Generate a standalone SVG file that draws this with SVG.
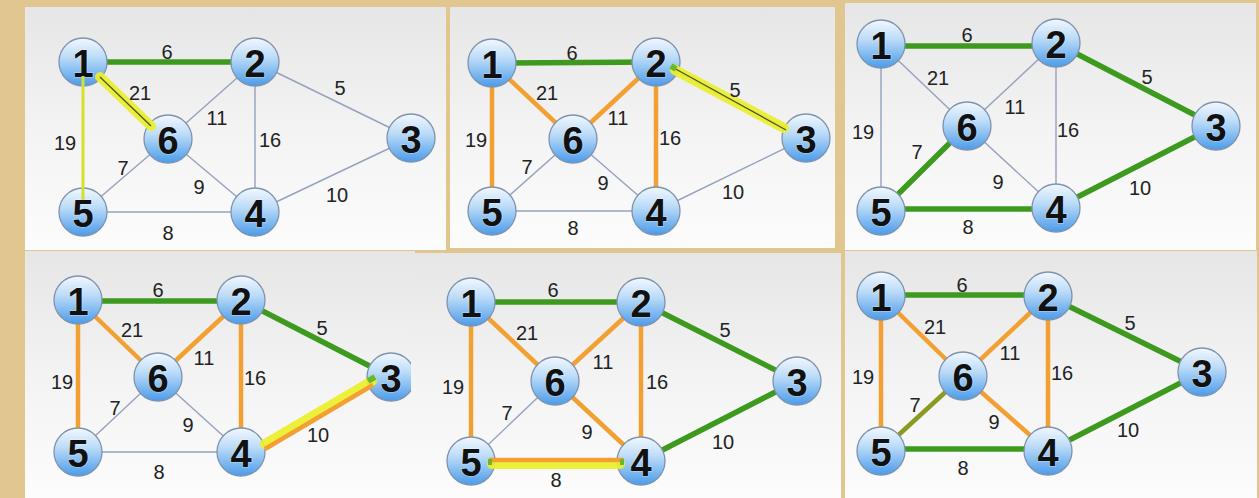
<svg xmlns="http://www.w3.org/2000/svg" width="1259" height="498" viewBox="0 0 1259 498">
<defs>
<linearGradient id="panelG" x1="0" y1="0" x2="0" y2="1">
<stop offset="0" stop-color="#e6e6e6"/>
<stop offset="0.5" stop-color="#f3f3f3"/>
<stop offset="1" stop-color="#fcfcfc"/>
</linearGradient>
<linearGradient id="nodeG" x1="0" y1="0" x2="0" y2="1">
<stop offset="0" stop-color="#f2f8fe"/>
<stop offset="0.4" stop-color="#bcdcf8"/>
<stop offset="1" stop-color="#4b9bea"/>
</linearGradient>
</defs>
<style>
.bg{fill:#e2c690}
.panel{fill:url(#panelG)}
.node circle{fill:url(#nodeG);stroke:#7f93ad;stroke-width:1.3}
.node text{font-family:"Liberation Sans",Arial,sans-serif;font-weight:bold;font-size:38px;fill:#111;text-anchor:middle;stroke:#ffffff;stroke-opacity:0.35;stroke-width:1.5;paint-order:stroke}
.lbl{font-family:"Liberation Sans",Arial,sans-serif;font-size:20px;fill:#222;text-anchor:middle}
.gray{stroke:#95a2bd;stroke-width:1.4;fill:none}
.green{stroke:#3d9a1e;stroke-width:5.5;fill:none}
.orange{stroke:#f3a032;stroke-width:4.5;fill:none}
.olive{stroke:#8c9a22;stroke-width:4.5;fill:none}
.hl{stroke:#ecef2a;stroke-width:10;stroke-linecap:round;fill:none;opacity:0.92}
.hlthin{stroke:#d6e02c;stroke-width:3;fill:none}
.dark{stroke:#4a5826;stroke-width:1.3;fill:none}
.tip{stroke:#6ab82a;stroke-width:6;fill:none}
</style>
<rect class="bg" x="0" y="0" width="1259" height="498"/>

<!-- Panel 1 -->
<g id="panel1">
<rect class="panel" x="25" y="7" width="421" height="243"/>
<g id="p1-connectors">
<line class="gray" x1="83" y1="62" x2="83" y2="212"/>
<line class="gray" x1="83" y1="62" x2="168" y2="139"/>
<line class="gray" x1="255" y1="62" x2="168" y2="139"/>
<line class="gray" x1="255" y1="62" x2="255" y2="212"/>
<line class="gray" x1="255" y1="62" x2="411" y2="138"/>
<line class="gray" x1="168" y1="139" x2="83" y2="212"/>
<line class="gray" x1="168" y1="139" x2="255" y2="212"/>
<line class="gray" x1="83" y1="212" x2="255" y2="212"/>
<line class="gray" x1="255" y1="212" x2="411" y2="138"/>
<line class="green" x1="83" y1="62" x2="255" y2="62"/>
</g>
<g id="p1-n1" class="node"><circle cx="83" cy="62" r="24"/><text x="83" y="77">1</text></g>
<g id="p1-n2" class="node"><circle cx="255" cy="62" r="24"/><text x="255" y="77">2</text></g>
<g id="p1-n3" class="node"><circle cx="411" cy="138" r="24"/><text x="411" y="153">3</text></g>
<g id="p1-n4" class="node"><circle cx="255" cy="212" r="24"/><text x="255" y="227">4</text></g>
<g id="p1-n5" class="node"><circle cx="83" cy="212" r="24"/><text x="83" y="227">5</text></g>
<g id="p1-n6" class="node"><circle cx="168" cy="139" r="24"/><text x="168" y="154">6</text></g>
<g id="p1-highlights">
<line class="hl" x1="100" y1="77" x2="151" y2="126"/>
<line class="dark" x1="100" y1="77" x2="151" y2="126" stroke="#9aa32c"/>
<line class="hlthin" x1="83" y1="76" x2="83" y2="200"/>
</g>
<g id="p1-labels">
<text class="lbl" x="167" y="59">6</text>
<text class="lbl" x="140" y="100">21</text>
<text class="lbl" x="340" y="95">5</text>
<text class="lbl" x="217" y="125">11</text>
<text class="lbl" x="270" y="147">16</text>
<text class="lbl" x="65" y="150">19</text>
<text class="lbl" x="123" y="175">7</text>
<text class="lbl" x="199" y="194">9</text>
<text class="lbl" x="337" y="202">10</text>
<text class="lbl" x="168" y="240">8</text>
</g>
</g>

<!-- Panel 2 -->
<g id="panel2">
<rect class="panel" x="450" y="7" width="385" height="241"/>
<g id="p2-connectors">
<line class="gray" x1="656" y1="62" x2="806" y2="138"/>
<line class="gray" x1="573" y1="139" x2="492" y2="211"/>
<line class="gray" x1="573" y1="139" x2="656" y2="211"/>
<line class="gray" x1="492" y1="211" x2="656" y2="211"/>
<line class="gray" x1="656" y1="211" x2="806" y2="138"/>
<line class="orange" x1="492" y1="63" x2="573" y2="139"/>
<line class="orange" x1="656" y1="62" x2="573" y2="139"/>
<line class="orange" x1="492" y1="63" x2="492" y2="211"/>
<line class="orange" x1="656" y1="62" x2="656" y2="211"/>
<line class="green" x1="492" y1="63" x2="656" y2="62"/>
</g>
<g id="p2-n1" class="node"><circle cx="492" cy="63" r="24"/><text x="492" y="78">1</text></g>
<g id="p2-n2" class="node"><circle cx="656" cy="62" r="24"/><text x="656" y="77">2</text></g>
<g id="p2-n3" class="node"><circle cx="806" cy="138" r="24"/><text x="806" y="153">3</text></g>
<g id="p2-n4" class="node"><circle cx="656" cy="211" r="24"/><text x="656" y="226">4</text></g>
<g id="p2-n5" class="node"><circle cx="492" cy="211" r="24"/><text x="492" y="226">5</text></g>
<g id="p2-n6" class="node"><circle cx="573" cy="139" r="24"/><text x="573" y="154">6</text></g>
<g id="p2-highlights">
<line class="hl" x1="675" y1="70" x2="784" y2="128"/>
<line class="dark" x1="672" y1="67" x2="786" y2="130"/>
<line class="tip" x1="671" y1="66" x2="676" y2="69"/>
</g>
<g id="p2-labels">
<text class="lbl" x="572" y="60">6</text>
<text class="lbl" x="547" y="100">21</text>
<text class="lbl" x="735" y="97">5</text>
<text class="lbl" x="618" y="125">11</text>
<text class="lbl" x="670" y="145">16</text>
<text class="lbl" x="476" y="147">19</text>
<text class="lbl" x="527" y="174">7</text>
<text class="lbl" x="603" y="190">9</text>
<text class="lbl" x="733" y="199">10</text>
<text class="lbl" x="573" y="235">8</text>
</g>
</g>

<!-- Panel 3 -->
<g id="panel3">
<rect class="panel" x="845" y="3" width="411" height="247"/>
<g id="p3-connectors">
<line class="gray" x1="881" y1="44" x2="967" y2="126"/>
<line class="gray" x1="881" y1="44" x2="881" y2="211"/>
<line class="gray" x1="1056" y1="43" x2="967" y2="126"/>
<line class="gray" x1="1056" y1="43" x2="1056" y2="208"/>
<line class="gray" x1="967" y1="126" x2="1056" y2="208"/>
<line class="green" x1="881" y1="46" x2="1056" y2="46"/>
<line class="green" x1="1056" y1="43" x2="1216" y2="126"/>
<line class="green" x1="1216" y1="126" x2="1056" y2="208"/>
<line class="green" x1="881" y1="209" x2="1056" y2="209"/>
<line class="green" x1="881" y1="211" x2="967" y2="126"/>
</g>
<g id="p3-n1" class="node"><circle cx="881" cy="44" r="24"/><text x="881" y="59">1</text></g>
<g id="p3-n2" class="node"><circle cx="1056" cy="43" r="24"/><text x="1056" y="58">2</text></g>
<g id="p3-n3" class="node"><circle cx="1216" cy="126" r="24"/><text x="1216" y="141">3</text></g>
<g id="p3-n4" class="node"><circle cx="1056" cy="208" r="24"/><text x="1056" y="223">4</text></g>
<g id="p3-n5" class="node"><circle cx="881" cy="211" r="24"/><text x="881" y="226">5</text></g>
<g id="p3-n6" class="node"><circle cx="967" cy="126" r="24"/><text x="967" y="141">6</text></g>
<g id="p3-labels">
<text class="lbl" x="967" y="42">6</text>
<text class="lbl" x="938" y="85">21</text>
<text class="lbl" x="1147" y="84">5</text>
<text class="lbl" x="1015" y="114">11</text>
<text class="lbl" x="1068" y="137">16</text>
<text class="lbl" x="863" y="139">19</text>
<text class="lbl" x="917" y="159">7</text>
<text class="lbl" x="998" y="189">9</text>
<text class="lbl" x="1140" y="195">10</text>
<text class="lbl" x="968" y="234">8</text>
</g>
</g>

<!-- Panel 4 -->
<g id="panel4">
<rect class="panel" x="25" y="251" width="390" height="247"/>
<g id="p4-connectors">
<line class="gray" x1="158" y1="377" x2="78" y2="452"/>
<line class="gray" x1="158" y1="377" x2="241" y2="452"/>
<line class="gray" x1="78" y1="452" x2="241" y2="452"/>
<line class="orange" x1="78" y1="300" x2="158" y2="377"/>
<line class="orange" x1="241" y1="300" x2="158" y2="377"/>
<line class="orange" x1="78" y1="300" x2="78" y2="452"/>
<line class="orange" x1="241" y1="300" x2="241" y2="452"/>
<line class="green" x1="78" y1="301" x2="241" y2="301"/>
<line class="green" x1="241" y1="300" x2="391" y2="377"/>
</g>
<g id="p4-n1" class="node"><circle cx="78" cy="300" r="24"/><text x="78" y="315">1</text></g>
<g id="p4-n2" class="node"><circle cx="241" cy="300" r="24"/><text x="241" y="315">2</text></g>
<g id="p4-n3" class="node"><circle cx="391" cy="377" r="24"/><text x="391" y="392">3</text></g>
<g id="p4-n4" class="node"><circle cx="241" cy="452" r="24"/><text x="241" y="467">4</text></g>
<g id="p4-n5" class="node"><circle cx="78" cy="452" r="24"/><text x="78" y="467">5</text></g>
<g id="p4-n6" class="node"><circle cx="158" cy="377" r="24"/><text x="158" y="392">6</text></g>
<g id="p4-highlights">
<line class="hl" x1="265" y1="444" x2="372" y2="381"/>
<line class="orange" stroke-width="5" x1="265" y1="449" x2="373" y2="385"/>
<line class="tip" x1="368" y1="381" x2="375" y2="377"/>
</g>
<g id="p4-labels">
<text class="lbl" x="158" y="297">6</text>
<text class="lbl" x="132" y="337">21</text>
<text class="lbl" x="322" y="335">5</text>
<text class="lbl" x="204" y="365">11</text>
<text class="lbl" x="255" y="385">16</text>
<text class="lbl" x="62" y="389">19</text>
<text class="lbl" x="115" y="415">7</text>
<text class="lbl" x="188" y="432">9</text>
<text class="lbl" x="318" y="442">10</text>
<text class="lbl" x="159" y="479">8</text>
</g>
</g>

<!-- Panel 5 -->
<g id="panel5">
<rect class="panel" x="411" y="253" width="430" height="245"/>
<g id="p5-connectors">
<line class="gray" x1="555" y1="381" x2="471" y2="461"/>
<line class="orange" x1="471" y1="302" x2="555" y2="381"/>
<line class="orange" x1="641" y1="302" x2="555" y2="381"/>
<line class="orange" x1="471" y1="302" x2="471" y2="461"/>
<line class="orange" x1="641" y1="302" x2="641" y2="461"/>
<line class="orange" x1="555" y1="381" x2="641" y2="461"/>
<line class="green" x1="471" y1="302" x2="641" y2="302"/>
<line class="green" x1="641" y1="302" x2="797" y2="381"/>
<line class="green" x1="641" y1="461" x2="797" y2="381"/>
</g>
<g id="p5-n1" class="node"><circle cx="471" cy="302" r="24"/><text x="471" y="317">1</text></g>
<g id="p5-n2" class="node"><circle cx="641" cy="302" r="24"/><text x="641" y="317">2</text></g>
<g id="p5-n3" class="node"><circle cx="797" cy="381" r="24"/><text x="797" y="396">3</text></g>
<g id="p5-n4" class="node"><circle cx="641" cy="461" r="24"/><text x="641" y="476">4</text></g>
<g id="p5-n5" class="node"><circle cx="471" cy="461" r="24"/><text x="471" y="476">5</text></g>
<g id="p5-n6" class="node"><circle cx="555" cy="381" r="24"/><text x="555" y="396">6</text></g>
<g id="p5-highlights">
<line class="hl" x1="492" y1="464" x2="620" y2="464"/>
<line class="orange" stroke-width="5" x1="489" y1="460" x2="624" y2="460"/>
<line class="tip" stroke-width="8" x1="488" y1="462" x2="492" y2="462"/>
<line class="tip" stroke-width="8" x1="620" y1="462" x2="624" y2="462"/>
</g>
<g id="p5-labels">
<text class="lbl" x="553" y="297">6</text>
<text class="lbl" x="527" y="340">21</text>
<text class="lbl" x="725" y="337">5</text>
<text class="lbl" x="603" y="369">11</text>
<text class="lbl" x="657" y="389">16</text>
<text class="lbl" x="453" y="394">19</text>
<text class="lbl" x="507" y="420">7</text>
<text class="lbl" x="587" y="439">9</text>
<text class="lbl" x="723" y="449">10</text>
<text class="lbl" x="556" y="487">8</text>
</g>
</g>

<!-- Panel 6 -->
<g id="panel6">
<rect class="panel" x="845" y="251" width="412" height="247"/>
<g id="p6-connectors">
<line class="orange" x1="881" y1="296" x2="963" y2="376"/>
<line class="orange" x1="1048" y1="296" x2="963" y2="376"/>
<line class="orange" x1="881" y1="296" x2="881" y2="451"/>
<line class="orange" x1="1048" y1="296" x2="1048" y2="451"/>
<line class="orange" x1="963" y1="376" x2="1048" y2="451"/>
<line class="olive" x1="881" y1="451" x2="963" y2="376"/>
<line class="green" x1="881" y1="295" x2="1048" y2="295"/>
<line class="green" x1="1048" y1="296" x2="1202" y2="372"/>
<line class="green" x1="1048" y1="451" x2="1202" y2="372"/>
<line class="green" x1="881" y1="449" x2="1048" y2="449"/>
</g>
<g id="p6-n1" class="node"><circle cx="881" cy="296" r="24"/><text x="881" y="311">1</text></g>
<g id="p6-n2" class="node"><circle cx="1048" cy="296" r="24"/><text x="1048" y="311">2</text></g>
<g id="p6-n3" class="node"><circle cx="1202" cy="372" r="24"/><text x="1202" y="387">3</text></g>
<g id="p6-n4" class="node"><circle cx="1048" cy="451" r="24"/><text x="1048" y="466">4</text></g>
<g id="p6-n5" class="node"><circle cx="881" cy="451" r="24"/><text x="881" y="466">5</text></g>
<g id="p6-n6" class="node"><circle cx="963" cy="376" r="24"/><text x="963" y="391">6</text></g>
<g id="p6-labels">
<text class="lbl" x="962" y="292">6</text>
<text class="lbl" x="935" y="334">21</text>
<text class="lbl" x="1130" y="330">5</text>
<text class="lbl" x="1010" y="360">11</text>
<text class="lbl" x="1062" y="380">16</text>
<text class="lbl" x="863" y="384">19</text>
<text class="lbl" x="915" y="412">7</text>
<text class="lbl" x="994" y="429">9</text>
<text class="lbl" x="1128" y="437">10</text>
<text class="lbl" x="963" y="475">8</text>
</g>
</g>
</svg>
